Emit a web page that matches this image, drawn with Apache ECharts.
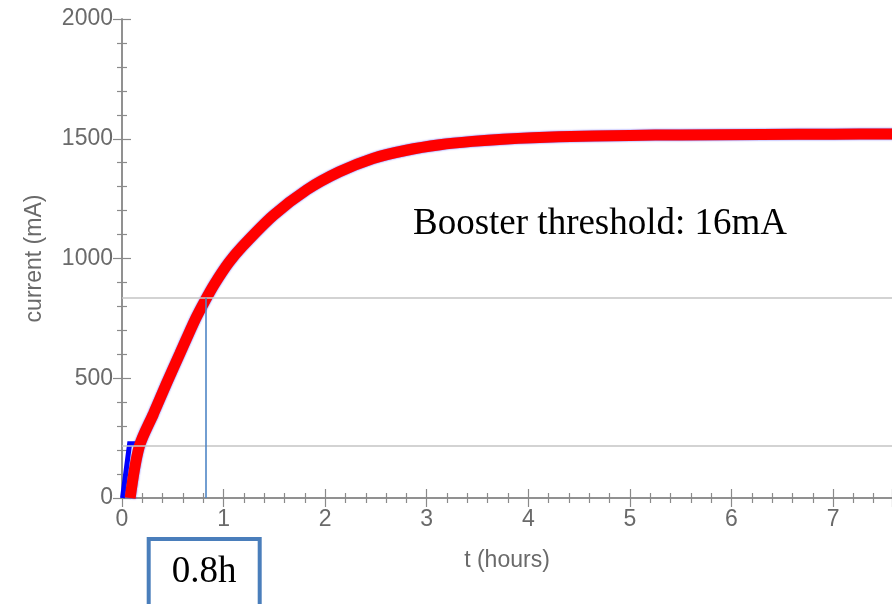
<!DOCTYPE html>
<html>
<head>
<meta charset="utf-8">
<title>current vs t</title>
<script src="https://cdn.jsdelivr.net/npm/echarts@6/dist/echarts.min.js"></script>
<style>
  html, body { margin: 0; padding: 0; background: #fff; }
  #main { width: 892px; height: 604px; }
</style>
</head>
<body>
<div id="main"></div>
<script>
// red curve
const redT = [0.08, 0.17, 0.31, 0.44, 0.57, 0.72, 0.82, 0.91, 1.05, 1.18, 1.49, 1.82, 2.14, 2.47, 2.8, 3.13, 3.45, 3.75, 4.3, 5.0, 5.5, 6.3, 7.0, 7.6]
const redI = [0, 215, 352, 480, 603, 745, 826, 893, 982, 1048, 1180, 1287, 1362, 1418, 1452, 1475, 1489, 1498, 1508, 1514, 1516, 1518, 1519, 1520]
// blue curve: quick ramp + plateau (straight segments) ...
const blueStepT = [0.005, 0.075, 0.16, 0.2]
const blueStepI = [0, 226, 226, 252]
// ... then the same growth as the red one
const blueT = [0.2, 0.31, 0.44, 0.57, 0.72, 0.82, 0.91, 1.05, 1.18, 1.49, 1.82, 2.14, 2.47, 2.8, 3.13, 3.45, 3.75, 4.3, 5.0, 5.5, 6.3, 7.0, 7.6]
const blueI = [252, 357, 485, 607, 749, 829, 896, 985, 1051, 1182, 1289, 1364, 1420, 1454, 1477, 1490, 1499, 1509, 1515, 1517, 1519, 1520, 1521]
// reference lines
const hLines = [218, 836]
const vLine = 0.82

const xMax = 7.58

const pair = (ts, vs) => ts.map((t, i) => [t, vs[i]])

const chart = echarts.init(document.getElementById('main'))

const frameColor = '#8a8a8a'
const labelColor = '#6a6a6a'
const tickFont = 'Liberation Sans, Arial, sans-serif'

// frame axis pieces shared by all four sides
const frameLine = { show: true, lineStyle: { color: frameColor, width: 1.5 } }
const frameTick = { show: true, inside: true, length: 9, lineStyle: { color: frameColor, width: 1.2 } }
const frameMinor = { show: true, splitNumber: 5, length: 5, lineStyle: { color: frameColor, width: 1.2 } }

const option = {
  animation: false,
  backgroundColor: '#fff',
  grid: { left: 122, top: 19, width: 771, height: 479, containLabel: false },
  xAxis: [
    {
      type: 'value',
      min: 0,
      max: xMax,
      interval: 1,
      name: 't (hours)',
      nameLocation: 'middle',
      nameGap: 51,
      nameTextStyle: { fontSize: 23, color: labelColor, fontFamily: tickFont },
      axisLine: frameLine,
      axisTick: frameTick,
      minorTick: frameMinor,
      axisLabel: { fontSize: 23, color: labelColor, fontFamily: tickFont, margin: 10, showMaxLabel: false },
      splitLine: { show: false }
    },
    {
      // top frame
      type: 'value',
      position: 'top',
      min: 0,
      max: xMax,
      interval: 1,
      axisLine: frameLine,
      axisTick: frameTick,
      minorTick: frameMinor,
      axisLabel: { show: false },
      splitLine: { show: false }
    }
  ],
  yAxis: [
    {
      type: 'value',
      min: 0,
      max: 2000,
      interval: 500,
      name: 'current (mA)',
      nameLocation: 'middle',
      nameGap: 76,
      nameTextStyle: { fontSize: 23, color: labelColor, fontFamily: tickFont },
      axisLine: frameLine,
      axisTick: frameTick,
      minorTick: frameMinor,
      axisLabel: { fontSize: 23, color: labelColor, fontFamily: tickFont, margin: 9, formatter: v => String(v) },
      splitLine: { show: false }
    },
    {
      // right frame (mostly off the canvas)
      type: 'value',
      position: 'right',
      min: 0,
      max: 2000,
      interval: 500,
      axisLine: frameLine,
      axisTick: frameTick,
      minorTick: frameMinor,
      axisLabel: { show: false },
      splitLine: { show: false }
    }
  ],
  series: [
    {
      // gray guide lines + the 0.8h marker, behind the curves
      type: 'line',
      data: [],
      z: 1,
      markLine: {
        silent: true,
        symbol: 'none',
        label: { show: false },
        data: [
          ...hLines.map(v => ({ yAxis: v, lineStyle: { color: '#c4c4c4', width: 1.5, type: 'solid' } })),
          [
            { coord: [vLine, 0], lineStyle: { color: '#4f86c6', width: 1.6, type: 'solid' } },
            { coord: [vLine, hLines[1]] }
          ]
        ]
      }
    },
    {
      type: 'line',
      data: pair(blueStepT, blueStepI),
      showSymbol: false,
      z: 2,
      lineStyle: { color: '#0000ff', width: 5, join: 'miter' }
    },
    {
      type: 'line',
      data: pair(blueT, blueI),
      showSymbol: false,
      smooth: 0.3,
      z: 2,
      lineStyle: { color: '#0000ff', width: 5 }
    },
    {
      type: 'line',
      data: pair(redT, redI),
      showSymbol: false,
      smooth: 0.3,
      z: 3,
      lineStyle: { color: '#ff0000', width: 11, shadowColor: 'rgba(40,40,255,0.8)', shadowBlur: 2 }
    }
  ],
  graphic: [
    {
      type: 'text',
      left: 413,
      top: 206,
      style: { text: 'Booster threshold: 16mA', font: '37px "Liberation Serif", "Times New Roman", serif', fill: '#000' }
    },
    {
      type: 'rect',
      shape: { x: 148.7, y: 539, width: 111, height: 70 },
      style: { fill: '#fff', stroke: '#4a7ebb', lineWidth: 4 }
    },
    {
      type: 'text',
      x: 204,
      y: 572,
      style: { text: '0.8h', font: '37px "Liberation Serif", "Times New Roman", serif', fill: '#000', align: 'center', verticalAlign: 'middle' }
    }
  ]
}

chart.setOption(option)
</script>
</body>
</html>
